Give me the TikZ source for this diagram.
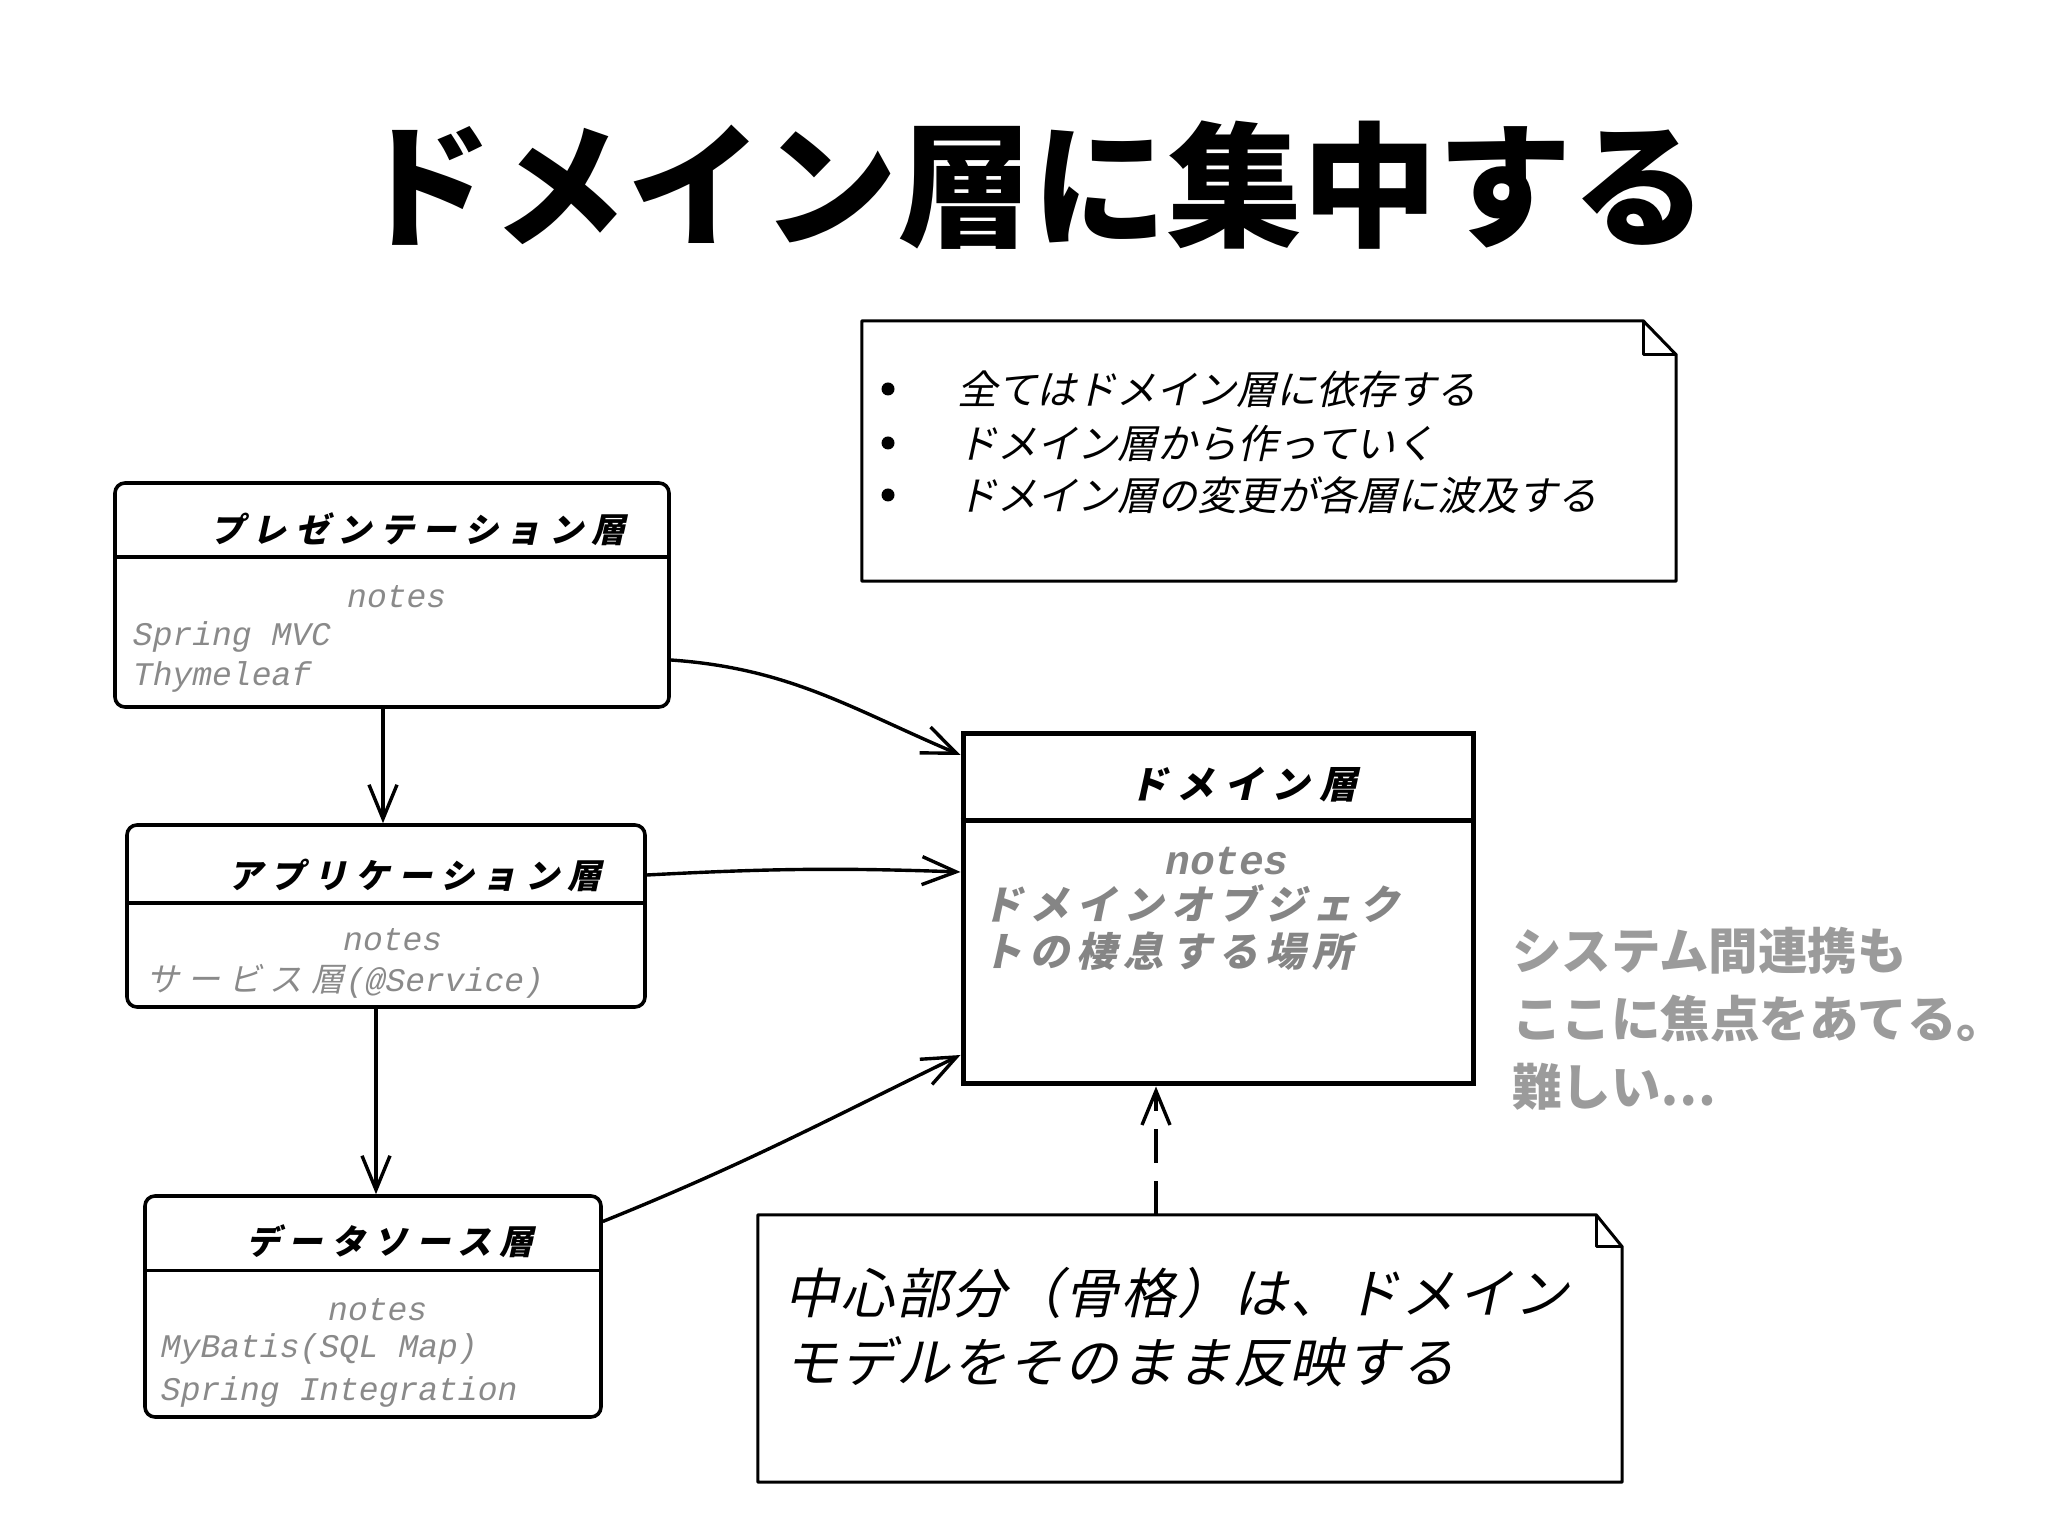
\documentclass[tikz,border=0pt]{standalone}
\usepackage{fontspec}
\usetikzlibrary{arrows.meta}
\newfontfamily\jp{Noto Sans CJK JP}
\newfontfamily\jph[FakeSlant=0.22]{Noto Sans CJK JP}
\newfontfamily\jphb[FakeSlant=0.22,LetterSpace=4]{Noto Sans CJK JP}
\newfontfamily\jphs[FakeSlant=0.22,LetterSpace=25]{Noto Sans CJK JP}
\newfontfamily\jphm[FakeSlant=0.22,LetterSpace=18]{Noto Sans CJK JP}
\newfontfamily\lat[FakeSlant=0.2]{Liberation Mono}
\definecolor{notegray}{HTML}{8A8A8A}
\definecolor{domgray}{HTML}{858585}
\definecolor{sidegray}{HTML}{9B9B9B}
\begin{document}
\begin{tikzpicture}[x=1pt,y=1pt,
  box/.style={draw, line width=3.6pt, rounded corners=10pt, inner sep=0pt},
  dombox/.style={draw, line width=5pt, inner sep=0pt},
  divider/.style={line width=3.4pt},
  notebox/.style={inner sep=0pt},
  noteline/.style={line width=3pt, line join=round},
  conn/.style={line width=3.4pt, -{Straight Barb[length=34pt,width=28pt]}},
  boxtitle/.style={font=\jphs\bfseries\fontsize{34}{38}\selectfont, inner sep=0pt},
  notelbl/.style={font=\lat\fontsize{33}{36}\selectfont, text=notegray, inner sep=0pt},
  sidetxt/.style={font=\jp\bfseries\fontsize{49.5}{52}\selectfont, text=sidegray, inner sep=0pt, anchor=west},
  toptxt/.style={font=\jph\fontsize{40}{44}\selectfont, inner sep=0pt, anchor=west},
  bottxt/.style={font=\jphb\fontsize{54}{58}\selectfont, inner sep=0pt, anchor=west},
  bullet/.style={circle, fill, inner sep=0pt, minimum size=13pt}]
\useasboundingbox[fill=white] (0,0) rectangle (2048,1535);

% title
\node[font=\jp\bfseries\fontsize{135}{140}\selectfont, inner sep=0pt] (title) at (1032,1350) {ドメイン層に集中する};

% top note
\node[notebox, minimum width=814pt, minimum height=260pt] (n1) at (1269,1084) {};
\draw[noteline] (n1.north west) -- ([xshift=-33pt]n1.north east) -- ([yshift=-34pt]n1.north east) -- (n1.south east) -- (n1.south west) -- cycle;
\draw[noteline] ([xshift=-33pt]n1.north east) |- ([yshift=-34pt]n1.north east);
\node[bullet] (b1) at (888,1146) {};
\node[bullet] (b2) at (888,1092) {};
\node[bullet] (b3) at (888,1040) {};
\node[toptxt] (t1) at (957,1146) {全てはドメイン層に依存する};
\node[toptxt] (t2) at (957,1092) {ドメイン層から作っていく};
\node[toptxt] (t3) at (957,1040) {ドメイン層の変更が各層に波及する};

% presentation box
\node[box, minimum width=554pt, minimum height=224pt] (pres) at (392,940) {};
\draw[divider] ([yshift=-76pt]pres.north west) -- ([yshift=-76pt]pres.north east);
\node[boxtitle] (prest) at (418,1006) {プレゼンテーション層};
\node[notelbl] (presn) at (395,938) {notes};
\node[notelbl, anchor=west] (pres1) at (131,898) {Spring MVC};
\node[notelbl, anchor=west] (pres2) at (131,858) {Thymeleaf};

% application box
\node[box, minimum width=518pt, minimum height=182pt] (app) at (386,619) {};
\draw[divider] ([yshift=-80pt]app.north west) -- ([yshift=-80pt]app.north east);
\node[boxtitle] (appt) at (415,660) {アプリケーション層};
\node[notelbl] (appn) at (391,595) {notes};
\node[inner sep=0pt, anchor=west, text=notegray] (app1) at (146,554) {{\jphs\fontsize{33}{36}\selectfont サービス層}{\lat\fontsize{33}{36}\selectfont (@Service)}};

% data source box
\node[box, minimum width=456pt, minimum height=221pt] (data) at (373,228.5) {};
\draw[divider] ([yshift=-76pt]data.north west) -- ([yshift=-76pt]data.north east);
\node[boxtitle] (datat) at (390,294) {データソース層};
\node[notelbl] (datan) at (376,225) {notes};
\node[notelbl, anchor=west] (data1) at (159,186) {MyBatis(SQL Map)};
\node[notelbl, anchor=west] (data2) at (159,143) {Spring Integration};

% domain box
\node[dombox, minimum width=510pt, minimum height=350pt] (dom) at (1218,626) {};
\draw[line width=4.5pt] ([yshift=-89pt]dom.north west) -- ([yshift=-89pt]dom.north east);
\node[font=\jphs\bfseries\fontsize{38}{42}\selectfont, inner sep=0pt] (domt) at (1243,750) {ドメイン層};
\node[font=\lat\bfseries\fontsize{41}{44}\selectfont, text=domgray, inner sep=0pt] (domn) at (1225,674) {notes};
\node[font=\jphm\bfseries\fontsize{40}{44}\selectfont, text=domgray, inner sep=0pt, anchor=west] (dom1) at (982,631) {ドメインオブジェク};
\node[font=\jphm\bfseries\fontsize{40}{44}\selectfont, text=domgray, inner sep=0pt, anchor=west] (dom2) at (982,584) {トの棲息する場所};

% bottom note
\node[notebox, minimum width=864pt, minimum height=267pt] (n2) at (1190,186.5) {};
\draw[noteline] (n2.north west) -- ([xshift=-26pt]n2.north east) -- ([yshift=-32pt]n2.north east) -- (n2.south east) -- (n2.south west) -- cycle;
\draw[noteline] ([xshift=-26pt]n2.north east) |- ([yshift=-32pt]n2.north east);
\node[bottxt] (bt1) at (784,242) {中心部分（骨格）は、ドメイン};
\node[bottxt] (bt2) at (784,173) {モデルをそのまま反映する};

% side text
\node[sidetxt] (s1) at (1512,584) {システム間連携も};
\node[sidetxt] (s2) at (1512,516) {ここに焦点をあてる。};
\node[sidetxt] (s3) at (1512,448) {難しい⋯};

% connectors
\draw[conn] ([yshift=-65pt]pres.east) to[out=-4,in=157] ([yshift=154pt]dom.west);
\draw[conn] ([yshift=41pt]app.east) to[out=3,in=178] ([yshift=37pt]dom.west);
\draw[conn] ([yshift=85pt]data.east) to[out=22,in=206] ([yshift=-146pt]dom.west);
\draw[conn] ([xshift=-9pt]pres.south) -- ([xshift=-3pt]app.north);
\draw[conn] ([xshift=-10pt]app.south) -- ([xshift=3pt]data.north);
\draw[conn, dash pattern=on 34pt off 18pt] ([xshift=-34pt]n2.north) -- ([xshift=-62pt]dom.south);
\end{tikzpicture}
\end{document}
